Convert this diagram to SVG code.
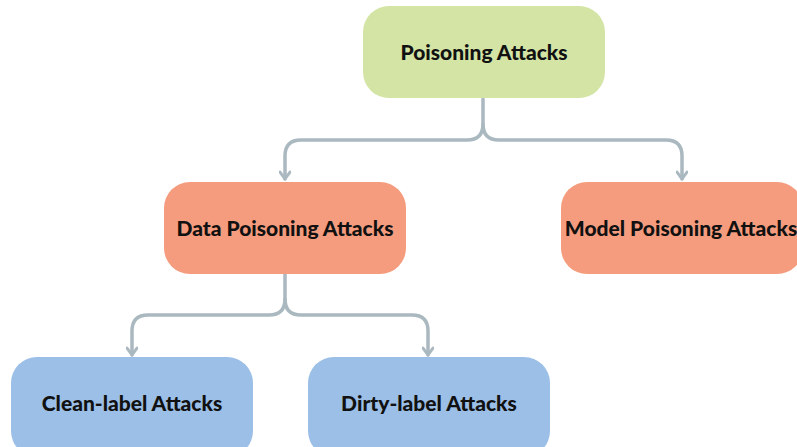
<svg xmlns="http://www.w3.org/2000/svg" width="797" height="447" viewBox="0 0 797 447">
<defs>
<style>
.n text{font-family:Lato,"Liberation Sans",sans-serif;font-weight:900;font-size:21px;fill:#111;text-anchor:middle;dominant-baseline:central}
.g rect{fill:#d3e4a5}
.o rect{fill:#f59c7e}
.b rect{fill:#9bbfe6}
.c path{fill:none;stroke:#aab8c0;stroke-width:3.5;stroke-linecap:round;stroke-linejoin:round}
</style>
<marker id="ah" viewBox="0 0 12 12" refX="10" refY="6" markerWidth="12" markerHeight="12" markerUnits="userSpaceOnUse" orient="auto">
<path d="M3,1 L10,6 L3,11" fill="none" stroke="#aab8c0" stroke-width="3" stroke-linecap="round" stroke-linejoin="round"/>
</marker>
</defs>
<rect width="797" height="447" fill="#fff"/>
<g class="c" id="connectors">
<path d="M483,99 V124 Q483,140 467,140 H301 Q285,140 285,156 V179" marker-end="url(#ah)"/>
<path d="M483,124 Q483,140 499,140 H666 Q682,140 682,156 V179" marker-end="url(#ah)"/>
<path d="M285,274 V299 Q285,315 269,315 H148 Q132,315 132,331 V355" marker-end="url(#ah)"/>
<path d="M285,299 Q285,315 301,315 H412 Q428,315 428,331 V355" marker-end="url(#ah)"/>
</g>
<g class="n g" id="poisoning-attacks"><rect x="363" y="6" width="242" height="92" rx="26"/><text x="484" y="51">Poisoning Attacks</text></g>
<g class="n o" id="data-poisoning-attacks"><rect x="164" y="182" width="242" height="92" rx="26"/><text x="285" y="227">Data Poisoning Attacks</text></g>
<g class="n o" id="model-poisoning-attacks"><rect x="561" y="182" width="242" height="92" rx="26"/><text x="681" y="227">Model Poisoning Attacks</text></g>
<g class="n b" id="clean-label-attacks"><rect x="11" y="357" width="242" height="100" rx="26"/><text x="132" y="402">Clean-label Attacks</text></g>
<g class="n b" id="dirty-label-attacks"><rect x="308" y="357" width="242" height="100" rx="26"/><text x="429" y="402">Dirty-label Attacks</text></g>
</svg>
